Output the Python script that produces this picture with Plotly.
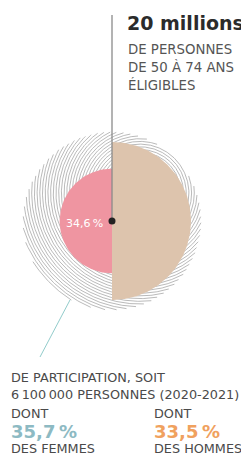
import numpy as np
import plotly.graph_objects as go

# ---- data ----
eligible_label = "20 millions"
eligible_desc = ["DE PERSONNES", "DE 50 À 74 ANS", "ÉLIGIBLES"]
participation_rate = 34.6          # %
participation_desc = ["DE PARTICIPATION, SOIT", "6\u2009100\u2009000 PERSONNES (2020-2021)"]
group_labels = ["DES FEMMES", "DES HOMMES"]
group_rates = [35.7, 33.5]
group_colors = ["#8DBAC3", "#F0A15E"]

def fr(v):
    return f"{v:.1f}".replace(".", ",") + "\u2009%"

PAGE_W, PAGE_H = 249, 457
BODY = 8                           # browser default body margin
CX, CY = 112, 221
R_ALL = 89.0                       # 100 % of eligible population
R_PART = R_ALL * np.sqrt(participation_rate / 100.0)
R_HALF = 79.0

fig = go.Figure()

# hatched background disk (offset concentric circles clipped to the disk)
ox, oy = CX + 28, CY - 28
t = np.linspace(0, 2 * np.pi, 541)
hx, hy = [], []
for rr in np.arange(3, 135, 2.7):
    px = ox + rr * np.cos(t)
    py = oy + rr * np.sin(t)
    inside = np.hypot(px - CX, py - CY) <= R_ALL
    for xv, yv, ok in zip(px, py, inside):
        if ok:
            hx.append(xv); hy.append(yv)
        else:
            hx.append(None); hy.append(None)
    hx.append(None); hy.append(None)
fig.add_trace(go.Scatter(x=hx, y=hy, mode="lines",
                         line=dict(color="#949494", width=0.65),
                         hoverinfo="skip"))

# participation disk (pink)
a = np.linspace(0, 2 * np.pi, 241)
fig.add_trace(go.Scatter(x=CX + R_PART * np.cos(a), y=CY + R_PART * np.sin(a),
                         mode="lines", fill="toself", fillcolor="#EF95A1",
                         line=dict(width=0, color="#EF95A1"), hoverinfo="skip"))

# beige half disk (right)
b = np.linspace(-np.pi / 2, np.pi / 2, 181)
bx = list(CX + R_HALF * np.cos(b)) + [CX]
by = list(CY + R_HALF * np.sin(b)) + [CY - R_HALF]
fig.add_trace(go.Scatter(x=bx, y=by, mode="lines", fill="toself",
                         fillcolor="#DDC4AD", line=dict(width=0, color="#DDC4AD"),
                         hoverinfo="skip"))

# vertical leader line + dot
fig.add_trace(go.Scatter(x=[CX, CX], y=[15, CY], mode="lines",
                         line=dict(color="#8a8a8a", width=1.3), hoverinfo="skip"))
fig.add_trace(go.Scatter(x=[CX], y=[CY], mode="markers",
                         marker=dict(color="#222222", size=7), hoverinfo="skip"))
# teal leader line
fig.add_trace(go.Scatter(x=[70, 40], y=[300, 357], mode="lines",
                         line=dict(color="#92cccb", width=1), hoverinfo="skip"))

FONT = "DejaVu Sans"
def txt(x, y, s, size, color, bold=False, xanchor="left"):
    fig.add_annotation(x=x, y=y, xref="x", yref="y", text=(f"<b>{s}</b>" if bold else s),
                       showarrow=False, xanchor=xanchor, yanchor="middle",
                       font=dict(family=FONT, size=size, color=color))

txt(125, 23, eligible_label, 19, "#2b2b2b", bold=True)
for i, s in enumerate(eligible_desc):
    txt(126, 49 + 18 * i, s, 13.3, "#555555")

txt(CX - 48, 223, fr(participation_rate), 11, "#ffffff")

for i, s in enumerate(participation_desc):
    txt(9, 377 + 17 * i, s, 12.8, "#4a4a4a")

for i, (lab, v, c) in enumerate(zip(group_labels, group_rates, group_colors)):
    x0 = 9 if i == 0 else 152
    txt(x0, 413, "DONT", 12.8, "#4a4a4a")
    txt(x0, 431, fr(v), 18, c, bold=True)
    txt(x0, 448.5, lab, 12.8, "#4a4a4a")

fig.update_layout(width=PAGE_W - BODY, height=PAGE_H - BODY,
                  margin=dict(l=0, r=0, t=0, b=0),
                  paper_bgcolor="white", plot_bgcolor="white", showlegend=False,
                  xaxis=dict(range=[BODY, PAGE_W], visible=False, fixedrange=True),
                  yaxis=dict(range=[PAGE_H, BODY], visible=False, fixedrange=True))
fig.write_html("out.html")
